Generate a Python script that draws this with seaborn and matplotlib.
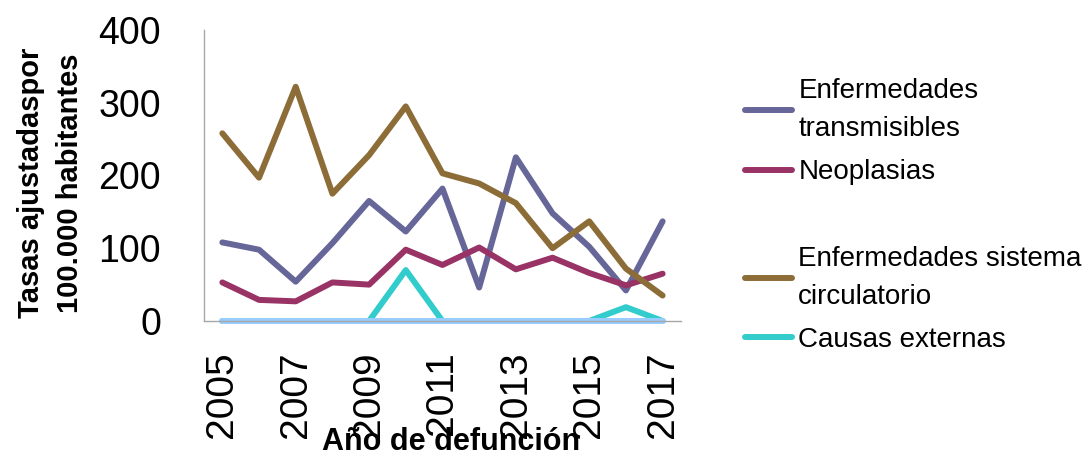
# tasas ajustadas de mortalidad por grupo de causas, 2005-2017
import pandas as pd
import matplotlib.pyplot as plt
import seaborn as sns
from matplotlib.lines import Line2D

years = list(range(2005, 2018))
transmisibles = [108, 98, 54, 107, 165, 123, 182, 46, 225, 148, 102, 42, 137]
neoplasias = [53, 29, 27, 53, 50, 98, 77, 101, 71, 87, 66, 49, 65]
circulatorio = [258, 197, 322, 175, 228, 295, 203, 189, 162, 100, 137, 72, 35]
externas = [0, 0, 0, 0, 0, 70, 0, 0, 0, 0, 0, 19, 0]
otras = [0, 0, 0, 0, 0, 0, 0, 0, 0, 0, 0, 0, 0]

series_names = ['Enfermedades\ntransmisibles', 'Neoplasias',
                'Enfermedades sistema\ncirculatorio', 'Causas externas', 'Otras']
colors = ['#666699', '#993366', '#8C6D37', '#33CCCC', '#99CCFF']

# long format table for seaborn
rows = []
for name, vals in zip(series_names, [transmisibles, neoplasias, circulatorio, externas, otras]):
    for y, v in zip(years, vals):
        rows.append({'Año': y, 'Tasa': v, 'Serie': name})
df = pd.DataFrame(rows)

sns.set_style('white')
plt.rcParams['font.family'] = ['Liberation Sans', 'DejaVu Sans']
plt.rcParams['text.color'] = 'black'
plt.rcParams['axes.labelcolor'] = 'black'
plt.rcParams['xtick.color'] = 'black'
plt.rcParams['ytick.color'] = 'black'

fig = plt.figure(figsize=(10.92, 4.66), dpi=100)
ax = fig.add_axes([0.1868, 0.3112, 0.4368, 0.6244])

sns.lineplot(data=df, x='Año', y='Tasa', hue='Serie', hue_order=series_names,
             palette=colors, linewidth=4.3, ax=ax, legend=False,
             solid_capstyle='round')
for ln in ax.get_lines():
    ln.set_clip_on(False)

ax.set_xlim(2004.5, 2017.5)
ax.set_ylim(0, 400)
ax.set_yticks([0, 100, 200, 300, 400])

# category boundaries as tick marks, labels in the middle of the categories
ax.set_xticks([y - 0.5 for y in years] + [2017.5])
ax.set_xticklabels([])
ax.set_xticks(years[::2], minor=True)
ax.set_xticklabels([str(y) for y in years[::2]], minor=True, rotation=90)
ax.tick_params(axis='x', which='major', length=9, width=1, color='#A6A6A6', direction='out')
ax.tick_params(axis='x', which='minor', length=0, pad=22, labelsize=28)
ax.tick_params(axis='y', length=9, width=1, color='#A6A6A6', direction='out', pad=22, labelsize=27)

for side in ['top', 'right']:
    ax.spines[side].set_visible(False)
for side in ['left', 'bottom']:
    ax.spines[side].set_color('#A6A6A6')
    ax.spines[side].set_linewidth(1)

ax.set_xlabel('Año de defunción', fontsize=22, fontweight='bold')
ax.xaxis.set_label_coords(0.518, -0.365)
ax.set_ylabel('Tasas ajustadaspor\n100.000 habitantes', fontsize=21, fontweight='bold',
              linespacing=1.5)
ax.yaxis.set_label_coords(-0.252, 0.475)

# legend (last series is not shown, blank row keeps the gap)
handles = [Line2D([], [], color=c, linewidth=4.3, solid_capstyle='round') for c in colors[:4]]
labels = series_names[:4]
handles.insert(2, Line2D([], [], linestyle='none'))
labels.insert(2, ' ')
leg = fig.legend(handles, labels, loc='upper left', bbox_to_anchor=(0.672, 0.856),
                 frameon=False, fontsize=20, handlelength=1.7, handletextpad=0.22,
                 labelspacing=0.62, borderaxespad=0)
for t in leg.get_texts():
    t.set_linespacing(1.6)

fig.savefig('out.png', dpi=100)
